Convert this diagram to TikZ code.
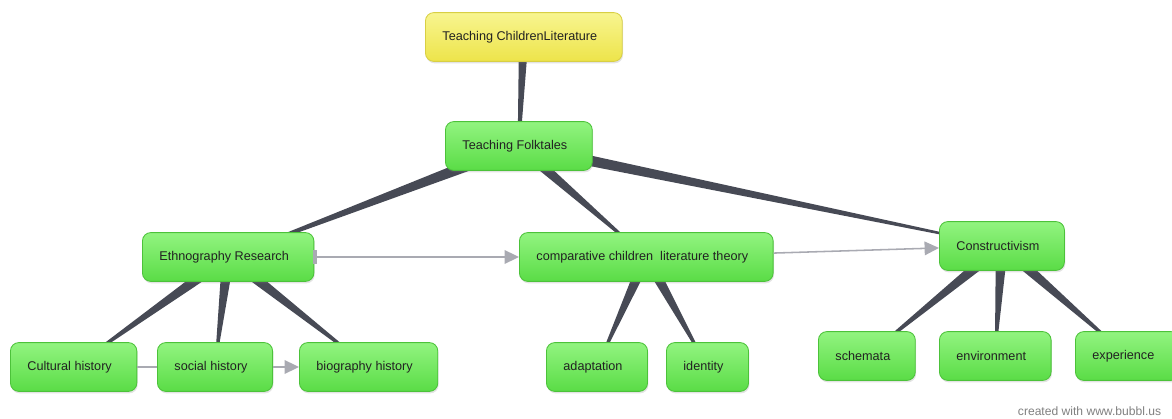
\documentclass[tikz,border=0pt]{standalone}
\usepackage{fontspec}
\setmainfont{Liberation Sans}
\usetikzlibrary{arrows.meta,calc,shadows,backgrounds}
\definecolor{bubtop}{HTML}{92F480}
\definecolor{bubbot}{HTML}{5ADC46}
\definecolor{bubedge}{HTML}{4CC23A}
\definecolor{roottop}{HTML}{F8F590}
\definecolor{rootbot}{HTML}{EDE44A}
\definecolor{rootedge}{HTML}{D8CF44}
\definecolor{branchgray}{HTML}{474A55}
\definecolor{flowgray}{HTML}{A9AAB2}
\definecolor{inkgray}{HTML}{222222}

% tapered connector: wide at the parent, thin at the child
\newcommand{\branch}[4]{%
  \fill[branchgray] ($(#1.center)!#3!90:(#2.center)$) -- ($(#1.center)!#3!-90:(#2.center)$)
    -- ($(#2.center)!#4!90:(#1.center)$) -- ($(#2.center)!#4!-90:(#1.center)$) -- cycle;}

\begin{document}
\begin{tikzpicture}[
      x=0.025cm, y=-0.025cm,
      bubble/.style={anchor=west, rounded corners=6pt, draw=bubedge, line width=0.6pt,
                     top color=bubtop, bottom color=bubbot, minimum height=1.22cm,
                     inner xsep=0.425cm, font=\fontsize{9}{10}\selectfont, text=inkgray,
                     drop shadow={opacity=0.22, shadow xshift=0.6pt, shadow yshift=-1.4pt},
                     execute at end node={\hspace*{0.2cm}}},
      root/.style={bubble, draw=rootedge, top color=roottop, bottom color=rootbot},
      flow/.style={-{Triangle[length=0.36cm, width=0.34cm]}, line width=1.1pt, flowgray},
      flowline/.style={line width=1.1pt, flowgray}
    ]
      \useasboundingbox (0,0) rectangle (1172,419);

      \node[root] (top) at (425,37) {Teaching ChildrenLiterature};
      \node[bubble] (folk) at (445,146) {Teaching Folktales};

      \node[bubble] (ethno) at (142,257) {Ethnography Research};
      \node[bubble] (comp) at (519,257) {comparative children~ literature theory};
      \node[bubble] (cons) at (939,246) {Constructivism};

      \node[bubble] (cult) at (10,367) {Cultural history};
      \node[bubble] (soc) at (157,367) {social history};
      \node[bubble] (bio) at (299,367) {biography history};
      \node[bubble] (adapt) at (546,367) {adaptation};
      \node[bubble] (ident) at (666,367) {identity};
      \node[bubble] (schem) at (818,356) {schemata};
      \node[bubble] (env) at (939,356) {environment};
      \node[bubble] (exper) at (1075,356) {experience};

      \begin{pgfonlayer}{background}
        \branch{top}{folk}{3.4pt}{0.85pt}
        \branch{folk}{ethno}{4.6pt}{0.5pt}
        \branch{folk}{comp}{4.2pt}{0.3pt}
        \branch{folk}{cons}{4.3pt}{0.4pt}
        \branch{ethno}{cult}{4.3pt}{0.3pt}
        \branch{ethno}{soc}{4.3pt}{0.3pt}
        \branch{ethno}{bio}{4.3pt}{0.3pt}
        \branch{comp}{adapt}{4.2pt}{0.3pt}
        \branch{comp}{ident}{4.2pt}{0.3pt}
        \branch{cons}{schem}{4.3pt}{0.3pt}
        \branch{cons}{env}{4.3pt}{0.3pt}
        \branch{cons}{exper}{4.3pt}{0.3pt}
      \end{pgfonlayer}

      % cross links
      \fill[flowgray] (ethno.east) ++(-1,-7) rectangle ++(4,14);
      \draw[flow] (ethno) -- (comp);
      \draw[flow] (comp) -- (cons);
      \draw[flowline] (cult) -- (soc);
      \draw[flow] (soc) -- (bio);

      \node[anchor=west, text=gray, font=\fontsize{8.6}{10}\selectfont] (credit) at (1013,411) {created with www.bubbl.us};
    \end{tikzpicture}
\end{document}
